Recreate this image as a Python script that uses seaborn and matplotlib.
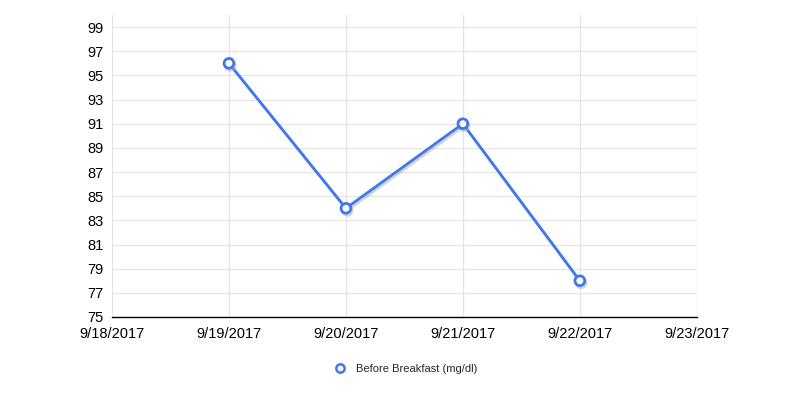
import matplotlib
matplotlib.use("Agg")
import matplotlib.pyplot as plt
import matplotlib.dates as mdates
import matplotlib.patheffects as pe
import seaborn as sns
import pandas as pd
from matplotlib.lines import Line2D

dates = ["2017-09-19", "2017-09-20", "2017-09-21", "2017-09-22"]
values = [96, 84, 91, 78]
series_name = "Before Breakfast (mg/dl)"
tick_dates = ["2017-09-18", "2017-09-19", "2017-09-20", "2017-09-21", "2017-09-22", "2017-09-23"]
y_ticks = [75, 77, 79, 81, 83, 85, 87, 89, 91, 93, 95, 97, 99]

df = pd.DataFrame({"date": pd.to_datetime(dates), "value": values})

sns.set_style("white")
plt.rcParams["font.family"] = ["Liberation Sans", "DejaVu Sans"]

fig = plt.figure(figsize=(8, 4), dpi=100)
ax = fig.add_axes([0.14, 0.2075, 0.731, 0.755])

blue = "#3f78ee"
sns.lineplot(data=df, x="date", y="value", ax=ax, color=blue, linewidth=2,
             marker="o", markersize=7, markerfacecolor="white",
             markeredgecolor=blue, markeredgewidth=2,
             path_effects=[pe.SimpleLineShadow(offset=(1, -1.5), shadow_color="#aaaaaa", alpha=0.5),
                           pe.Normal()])

ax.set_xlim(pd.Timestamp(tick_dates[0]), pd.Timestamp(tick_dates[-1]))
ax.set_ylim(75, 100)
ax.set_xticks(pd.to_datetime(tick_dates))
ax.set_xticklabels([f"{d.month}/{d.day}/{d.year}" for d in pd.to_datetime(tick_dates)])
ax.set_yticks(y_ticks)
ax.set_xlabel("")
ax.set_ylabel("")
ax.grid(True, color="#e6e6e6", linewidth=1)
ax.set_axisbelow(True)
for s in ["top", "right", "left"]:
    ax.spines[s].set_visible(False)
ax.spines["bottom"].set_color("black")
ax.spines["bottom"].set_linewidth(1)
ax.tick_params(axis="y", length=0, labelsize=10.5, colors="black", pad=6)
ax.tick_params(axis="x", length=0, labelsize=10.5, colors="black", pad=7)

handle = Line2D([], [], color="none", marker="o", markersize=6, markerfacecolor="white",
                markeredgecolor=blue, markeredgewidth=1.8)
fig.legend([handle], [series_name], loc="center", bbox_to_anchor=(0.507, 0.077),
           frameon=False, fontsize=8, handletextpad=0.8, handlelength=1.2)

fig.savefig("out.png", dpi=100, facecolor="white")
